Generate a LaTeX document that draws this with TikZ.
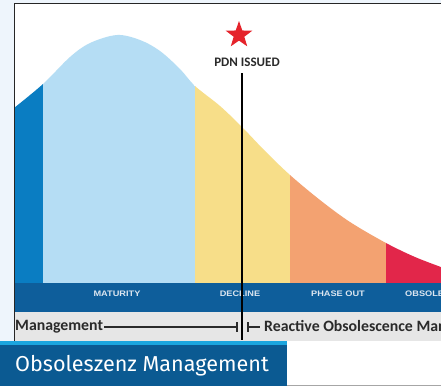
\documentclass[tikz,border=0pt]{standalone}
\usepackage{fontspec}
\setmainfont{Carlito}
\newfontfamily\titlefont{Fira Sans}
\newfontfamily\labfont{Liberation Sans}
\usetikzlibrary{shapes.geometric}
\definecolor{bgl}{HTML}{EEF5FC}
\definecolor{cdark}{HTML}{0A7DC2}
\definecolor{clight}{HTML}{B5DDF4}
\definecolor{cyel}{HTML}{F7DE89}
\definecolor{corg}{HTML}{F3A271}
\definecolor{cred}{HTML}{E2264A}
\definecolor{cstar}{HTML}{E5232B}
\definecolor{cband}{HTML}{0E5E9B}
\definecolor{cgrey}{HTML}{E6E6E6}
\definecolor{ctitle}{HTML}{0B5A92}
\definecolor{ccyan}{HTML}{1BA5DE}
\definecolor{ctext}{HTML}{2A2A2A}
\definecolor{clab}{HTML}{DCE6F0}
\tikzset{
  phaselabel/.style={text=clab, font=\labfont\bfseries\fontsize{8}{9}\selectfont, xscale=1.15, inner sep=0pt},
  bottomtext/.style={text=ctext, font=\bfseries\fontsize{15.8}{17}\selectfont, inner sep=1pt},
  tickline/.style={draw=ctext, line width=1.4pt},
}
\begin{document}
\begin{tikzpicture}[x=1pt,y=-1pt]
\useasboundingbox (0,0) rectangle (441,386);
\fill[bgl] (0,0) rectangle (441,341);
\fill[white] (14,3) rectangle (441,341);
\fill[white] (287,341) rectangle (441,386);
\draw[gray!70, line width=0.8pt] (287,385.5) -- (441,385.5);
\begin{scope}
  \clip (14,3) rectangle (441,341);
  \begin{scope}
    \clip (14,283) -- plot[smooth, tension=0.55] coordinates {(14,108) (43,84) (70,57) (90,43) (117,35) (140,40) (160,51) (180,69) (195,86) (220,106) (242,127) (265,151) (290,175) (320,200) (350,222) (386,243) (415,257) (441,267)} -- (441,283) -- cycle;
    \fill[cdark] (14,0) rectangle (43,283);
    \fill[clight] (43,0) rectangle (195,283);
    \fill[cyel] (195,0) rectangle (290,283);
    \fill[corg] (290,0) rectangle (386,283);
    \fill[cred] (386,0) rectangle (441,283);
  \end{scope}
  \fill[cband] (14,283) rectangle (441,312);
  \fill[cgrey] (14,312) rectangle (441,341);
  \node[phaselabel] (mat) at (117,294) {MATURITY};
  \node[phaselabel] (dec) at (240,294) {DECLINE};
  \node[phaselabel] (pho) at (338,294) {PHASE OUT};
  \node[phaselabel, anchor=west] (obs) at (405,294) {OBSOLETE};
  \node[bottomtext, anchor=west] (mgmt) at (14,327) {Management};
  \node[bottomtext, anchor=west] (react) at (263,327) {Reactive Obsolescence Management};
  \coordinate (tl) at (237,327);
  \coordinate (tr) at (248,327);
  \coordinate (tre) at (260,327);
  \draw[tickline] (mgmt.east) -- (tl);
  \draw[tickline] (237,322) -- (237,332);
  \draw[tickline] (tr) -- (tre);
  \draw[tickline] (248,322) -- (248,332);
\end{scope}
\draw[black!85, line width=0.9pt] (14,341) -- (14,3) -- (441,3);
\node[star, star points=5, star point ratio=2.5, fill=cstar, draw=none, minimum size=28pt, inner sep=0pt] (star) at (239,35) {};
\node[text=ctext, font=\bfseries\fontsize{13}{14}\selectfont, inner sep=0pt] (pdn) at (247,62) {PDN ISSUED};
\coordinate (vtop) at (242,73);
\coordinate (vbot) at (242,340);
\draw[black, line width=2.7pt] (vtop) -- (vbot);
\fill[ctitle] (0,341) rectangle (287,386);
\fill[ccyan] (0,341) rectangle (287,344.5);
\node[text=white, font=\titlefont\fontsize{21.6}{24}\selectfont, anchor=west, inner sep=0pt] (title) at (15,366) {Obsoleszenz Management};
\end{tikzpicture}
\end{document}
